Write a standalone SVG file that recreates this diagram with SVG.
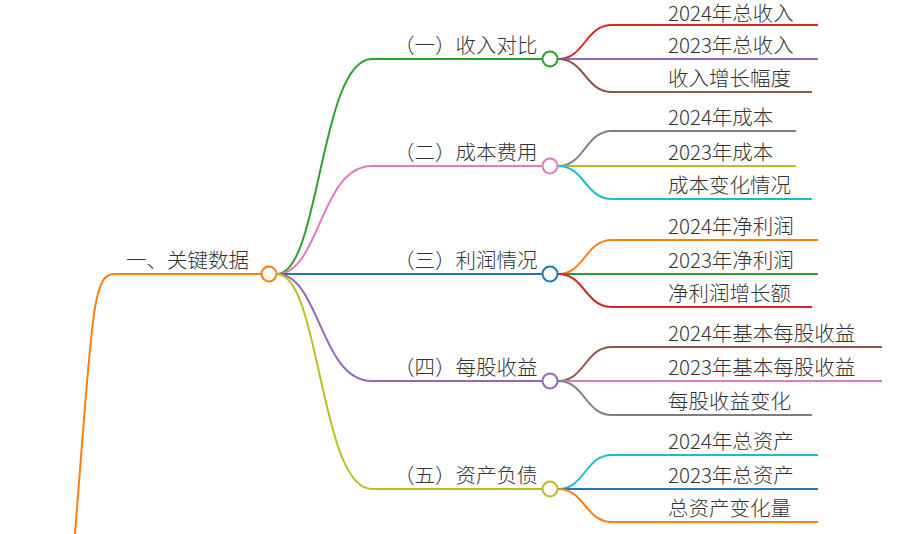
<svg xmlns="http://www.w3.org/2000/svg" width="913" height="534" viewBox="0 0 913 534">
<style>
text{font-family:"Noto Sans CJK SC","Noto Sans",sans-serif;font-size:20.5px;fill:#333;font-weight:300}
path,line{fill:none;stroke-width:2}
circle{fill:#fff;stroke-width:2}
</style>
<rect width="913" height="534" fill="#fff"/>
<g id="connectors">
<path d="M75 534 C92 320 92 274 114 274 H262" stroke="#ff7f0e"/>
<path d="M277 274 C320 274 320 59 372 59 H542" stroke="#2ca02c"/>
<path d="M277 274 C320 274 320 166 372 166 H542" stroke="#e377c2"/>
<path d="M277 274 H542" stroke="#1f77b4"/>
<path d="M277 274 C320 274 320 381 372 381 H542" stroke="#9467bd"/>
<path d="M277 274 C320 274 320 489 372 489 H542" stroke="#bcbd22"/>
<path d="M558 59 C585 59 585 25 612 25 H818" stroke="#d62728"/>
<path d="M558 59 H818" stroke="#9467bd"/>
<path d="M558 59 C585 59 585 92 612 92 H812" stroke="#8c564b"/>
<path d="M558 166 C585 166 585 131 612 131 H796" stroke="#7f7f7f"/>
<path d="M558 166 H796" stroke="#bcbd22"/>
<path d="M558 166 C585 166 585 199 612 199 H812" stroke="#17becf"/>
<path d="M558 274 C585 274 585 240 612 240 H818" stroke="#ff7f0e"/>
<path d="M558 274 H818" stroke="#2ca02c"/>
<path d="M558 274 C585 274 585 307 612 307 H812" stroke="#d62728"/>
<path d="M558 381 C585 381 585 347 612 347 H882" stroke="#8c564b"/>
<path d="M558 381 H882" stroke="#e377c2"/>
<path d="M558 381 C585 381 585 415 612 415 H812" stroke="#7f7f7f"/>
<path d="M558 489 C585 489 585 455 612 455 H818" stroke="#17becf"/>
<path d="M558 489 H818" stroke="#1f77b4"/>
<path d="M558 489 C585 489 585 522 612 522 H818" stroke="#ff7f0e"/>
</g>
<g id="root"><text x="126" y="268">一、关键数据</text><circle cx="269" cy="274" r="7.5" stroke="#ff7f0e"/></g>
<g id="b1"><text x="394" y="53">（一）收入对比</text><circle cx="550" cy="59" r="7.5" stroke="#2ca02c"/></g>
<g id="b2"><text x="394" y="160">（二）成本费用</text><circle cx="550" cy="166" r="7.5" stroke="#e377c2"/></g>
<g id="b3"><text x="394" y="268">（三）利润情况</text><circle cx="550" cy="274" r="7.5" stroke="#1f77b4"/></g>
<g id="b4"><text x="394" y="375">（四）每股收益</text><circle cx="550" cy="381" r="7.5" stroke="#9467bd"/></g>
<g id="b5"><text x="394" y="483">（五）资产负债</text><circle cx="550" cy="489" r="7.5" stroke="#bcbd22"/></g>
<g id="leaves">
<text x="668" y="21">2024年总收入</text>
<text x="668" y="53">2023年总收入</text>
<text x="668" y="86">收入增长幅度</text>
<text x="668" y="125">2024年成本</text>
<text x="668" y="160">2023年成本</text>
<text x="668" y="193">成本变化情况</text>
<text x="668" y="234">2024年净利润</text>
<text x="668" y="268">2023年净利润</text>
<text x="668" y="301">净利润增长额</text>
<text x="668" y="341">2024年基本每股收益</text>
<text x="668" y="375">2023年基本每股收益</text>
<text x="668" y="409">每股收益变化</text>
<text x="668" y="449">2024年总资产</text>
<text x="668" y="483">2023年总资产</text>
<text x="668" y="516">总资产变化量</text>
</g>
</svg>
